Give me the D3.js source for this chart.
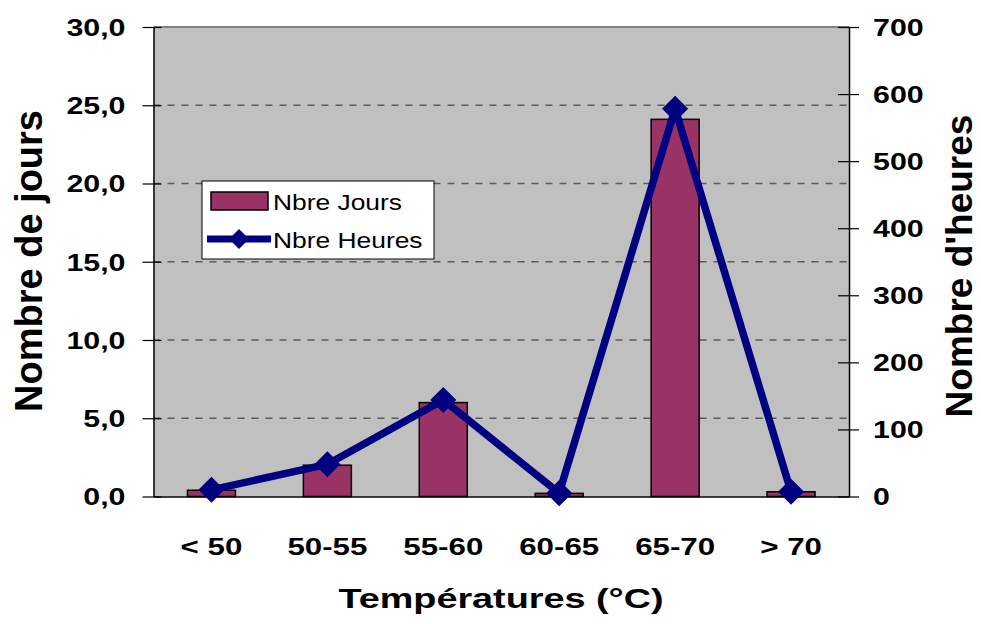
<!DOCTYPE html>
<html>
<head>
<meta charset="utf-8">
<script src="https://cdn.jsdelivr.net/npm/d3@7"></script>
<style>
  html, body { margin: 0; padding: 0; background: #fff; }
  svg { display: block; font-family: "Liberation Sans", Arial, sans-serif; }
</style>
</head>
<body>
<svg id="chart" width="981" height="624"></svg>
<script>
// Temperature classes and the two measured series
const categories = ["< 50", "50-55", "55-60", "60-65", "65-70", "> 70"];
const daysValues = [0.4, 2.0, 6.0, 0.2, 24.1, 0.3];
const hoursValues = [10, 48, 144, 5, 578, 7];
const leftTicks = [0, 5, 10, 15, 20, 25, 30];
const rightTicks = [0, 100, 200, 300, 400, 500, 600, 700];

const FONT = "Liberation Sans, Arial, sans-serif";
const WIDE = 1.32; // horizontal widening of the bold labels

const svg = d3.select("#chart");
const plot = { left: 153.5, right: 849, top: 27, bottom: 496.5 };

const x = d3.scaleBand().domain(categories).range([plot.left, plot.right]).paddingInner(0).paddingOuter(0);
const yL = d3.scaleLinear().domain([0, 30]).range([plot.bottom, plot.top]);
const yR = d3.scaleLinear().domain([0, 700]).range([plot.bottom, plot.top]);

// plot background
svg.append("rect")
  .attr("x", plot.left).attr("y", plot.top)
  .attr("width", plot.right - plot.left).attr("height", plot.bottom - plot.top)
  .attr("fill", "#c0c0c0");

// dashed horizontal gridlines
svg.append("g").selectAll("line")
  .data(leftTicks.filter(d => d > 0 && d < 30))
  .join("line")
  .attr("x1", plot.left).attr("x2", plot.right)
  .attr("y1", d => yL(d)).attr("y2", d => yL(d))
  .attr("stroke", "#5a5a5a").attr("stroke-width", 1.3)
  .attr("stroke-dasharray", "7,7");

// top border
svg.append("line")
  .attr("x1", plot.left).attr("x2", plot.right)
  .attr("y1", plot.top).attr("y2", plot.top)
  .attr("stroke", "#808080").attr("stroke-width", 2);

// bars (days)
const barW = 48;
svg.append("g").selectAll("rect")
  .data(daysValues)
  .join("rect")
  .attr("x", (d, i) => x(categories[i]) + x.bandwidth() / 2 - barW / 2)
  .attr("y", d => yL(d))
  .attr("width", barW)
  .attr("height", d => yL(0) - yL(d))
  .attr("fill", "#993366")
  .attr("stroke", "#000").attr("stroke-width", 1.5);

// axes
const leftAxis = d3.axisLeft(yL).tickValues(leftTicks).tickSize(0)
  .tickFormat(d => d3.format(".1f")(d).replace(".", ","));
const gL = svg.append("g").attr("transform", `translate(${plot.left},0)`).call(leftAxis);
gL.select(".domain").attr("stroke", "#000").attr("stroke-width", 1.5);
gL.selectAll(".tick text")
  .attr("x", 0).attr("dy", "0.36em")
  .attr("transform", `translate(-28,0) scale(${WIDE},1)`)
  .attr("font-size", 23).attr("font-weight", "bold").attr("fill", "#000")
  .attr("font-family", FONT);
gL.selectAll(".tick").append("line")
  .attr("x1", -11).attr("x2", 8).attr("stroke", "#000").attr("stroke-width", 1.2);

const rightAxis = d3.axisRight(yR).tickValues(rightTicks).tickSize(0).tickFormat(d3.format("d"));
const gR = svg.append("g").attr("transform", `translate(${plot.right},0)`).call(rightAxis);
gR.select(".domain").attr("stroke", "#000").attr("stroke-width", 1.5);
gR.selectAll(".tick text")
  .attr("x", 0).attr("dy", "0.36em")
  .attr("transform", `translate(24,0) scale(${WIDE},1)`)
  .attr("font-size", 23).attr("font-weight", "bold").attr("fill", "#000")
  .attr("font-family", FONT);
gR.selectAll(".tick").append("line")
  .attr("x1", -11).attr("x2", 10).attr("stroke", "#000").attr("stroke-width", 1.2);

const bottomAxis = d3.axisBottom(x).tickSize(0);
const gB = svg.append("g").attr("transform", `translate(0,${plot.bottom})`).call(bottomAxis);
gB.select(".domain").attr("stroke", "#000").attr("stroke-width", 1.5);
gB.selectAll(".tick text")
  .attr("y", 0).attr("dy", 0)
  .attr("transform", `translate(0,58.5) scale(1.36,1)`)
  .attr("font-size", 23).attr("font-weight", "bold").attr("fill", "#000")
  .attr("font-family", FONT);

// hours line with diamond markers
const lineGen = d3.line()
  .x((d, i) => x(categories[i]) + x.bandwidth() / 2)
  .y(d => yR(d));
svg.append("path")
  .datum(hoursValues)
  .attr("d", lineGen)
  .attr("fill", "none").attr("stroke", "#000080")
  .attr("stroke-width", 7.5).attr("stroke-linejoin", "miter");

const diamond = d3.symbol().type(d3.symbolSquare).size(340);
svg.append("g").selectAll("path")
  .data(hoursValues)
  .join("path")
  .attr("d", diamond)
  .attr("transform", (d, i) => `translate(${x(categories[i]) + x.bandwidth() / 2},${yR(d)}) rotate(45)`)
  .attr("fill", "#000080");

// axis titles
svg.append("text")
  .attr("transform", "translate(501,608) scale(1.35,1)")
  .attr("text-anchor", "middle")
  .attr("font-size", 28).attr("font-weight", "bold")
  .text("Températures (°C)");

svg.append("text")
  .attr("transform", "translate(42,261) rotate(-90)")
  .attr("text-anchor", "middle")
  .attr("font-size", 38).attr("font-weight", "bold")
  .text("Nombre de jours");

svg.append("text")
  .attr("transform", "translate(972,266) rotate(-90)")
  .attr("text-anchor", "middle")
  .attr("font-size", 37).attr("font-weight", "bold")
  .text("Nombre d'heures");

// legend
const lg = svg.append("g").attr("transform", "translate(202,181)");
lg.append("rect")
  .attr("width", 232).attr("height", 78)
  .attr("fill", "#fff").attr("stroke", "#000").attr("stroke-width", 1);
lg.append("rect")
  .attr("x", 9).attr("y", 11).attr("width", 57).attr("height", 18)
  .attr("fill", "#993366").attr("stroke", "#000").attr("stroke-width", 1.5);
lg.append("text")
  .attr("transform", "translate(71,29) scale(1.2,1)")
  .attr("font-size", 22).text("Nbre Jours");
lg.append("line")
  .attr("x1", 5).attr("x2", 69).attr("y1", 58).attr("y2", 58)
  .attr("stroke", "#000080").attr("stroke-width", 7);
lg.append("path")
  .attr("d", d3.symbol().type(d3.symbolSquare).size(200))
  .attr("transform", "translate(37,58) rotate(45)")
  .attr("fill", "#000080");
lg.append("text")
  .attr("transform", "translate(71,67) scale(1.2,1)")
  .attr("font-size", 22).text("Nbre Heures");
</script>
</body>
</html>
